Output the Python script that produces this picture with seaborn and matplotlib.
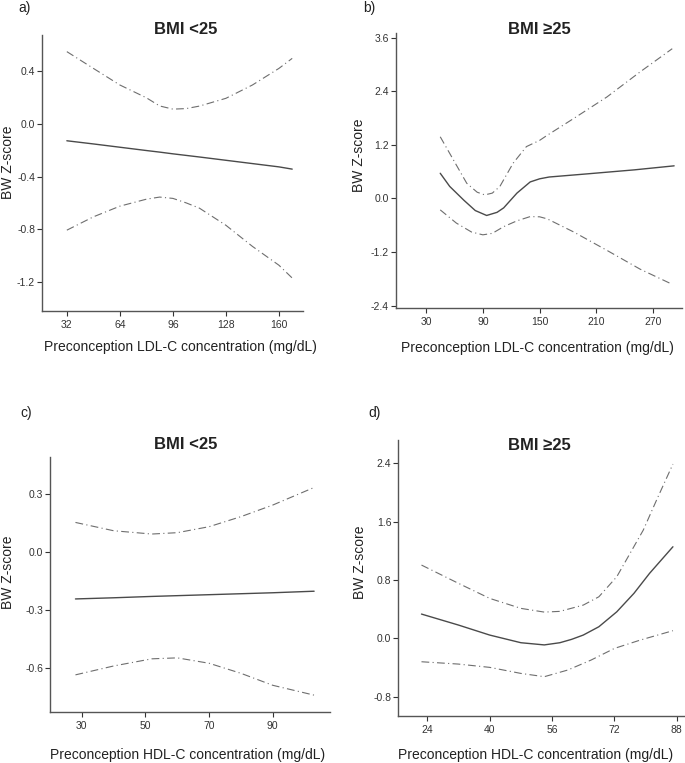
import matplotlib
matplotlib.use("Agg")
import matplotlib.pyplot as plt
import seaborn as sns
import pandas as pd

# ---------------- data ----------------
# a) LDL-C, BMI <25
a_x = [32, 48, 64, 80, 88, 96, 104, 112, 128, 144, 160, 168]
a_mid = [-0.129, -0.153, -0.178, -0.203, -0.215, -0.228, -0.240, -0.252, -0.277, -0.302, -0.327, -0.344]
a_up = [0.547, 0.42, 0.294, 0.197, 0.135, 0.111, 0.115, 0.134, 0.193, 0.294, 0.42, 0.496]
a_lo = [-0.807, -0.706, -0.625, -0.572, -0.556, -0.566, -0.60, -0.64, -0.77, -0.93, -1.073, -1.17]

# b) LDL-C, BMI >=25
b_x_mid = [45, 55, 70, 82, 94, 105, 112, 126, 140, 150, 160, 200, 250, 292]
b_mid = [0.564, 0.27, -0.04, -0.27, -0.38, -0.31, -0.21, 0.12, 0.37, 0.44, 0.48, 0.55, 0.64, 0.73]
b_x_up = [45, 59, 73, 84, 92, 100, 108, 122, 136, 150, 157, 186, 221, 256, 290]
b_up = [1.38, 0.86, 0.34, 0.14, 0.08, 0.12, 0.27, 0.79, 1.16, 1.30, 1.40, 1.79, 2.27, 2.83, 3.35]
b_x_lo = [45, 62, 78, 90, 100, 112, 126, 140, 150, 158, 186, 221, 256, 290]
b_lo = [-0.255, -0.55, -0.75, -0.813, -0.78, -0.63, -0.50, -0.405, -0.41, -0.456, -0.75, -1.16, -1.58, -1.92]

# c) HDL-C, BMI <25
c_x = [28, 40, 52, 60, 70, 80, 90, 103]
c_mid = [-0.243, -0.237, -0.230, -0.226, -0.221, -0.216, -0.211, -0.203]
c_up = [0.153, 0.110, 0.093, 0.10, 0.131, 0.183, 0.243, 0.334]
c_lo = [-0.636, -0.59, -0.553, -0.548, -0.576, -0.628, -0.69, -0.741]

# d) HDL-C, BMI >=25
d_x_mid = [22.5, 32, 40, 48, 54, 58, 61, 64, 68, 72.6, 77, 81, 87]
d_mid = [0.333, 0.182, 0.045, -0.06, -0.09, -0.06, -0.014, 0.045, 0.159, 0.364, 0.617, 0.891, 1.256]
d_x_up = [22.5, 32, 40, 48, 54, 58, 64, 68, 72.6, 76, 79.4, 83, 87]
d_up = [1.005, 0.754, 0.548, 0.411, 0.36, 0.37, 0.456, 0.57, 0.845, 1.165, 1.485, 1.92, 2.39]
d_x_lo = [22.5, 32, 40, 48, 54, 60, 66, 72, 78.6, 87]
d_lo = [-0.321, -0.353, -0.398, -0.481, -0.526, -0.435, -0.298, -0.138, -0.024, 0.105]

panel_labels = ["a)", "b)", "c)", "d)"]
titles = ["BMI <25", "BMI \u226525", "BMI <25", "BMI \u226525"]
xlabels = ["Preconception LDL-C concentration (mg/dL)"] * 2 + ["Preconception HDL-C concentration (mg/dL)"] * 2
ylabel = "BW Z-score"
a_xticks = [32, 64, 96, 128, 160]
b_xticks = [30, 90, 150, 210, 270]
c_xticks = [30, 50, 70, 90]
d_xticks = [24, 40, 56, 72, 88]
a_yticks = [-1.2, -0.8, -0.4, 0.0, 0.4]
b_yticks = [-2.4, -1.2, 0.0, 1.2, 2.4, 3.6]
c_yticks = [-0.6, -0.3, 0.0, 0.3]
d_yticks = [-0.8, 0.0, 0.8, 1.6, 2.4]

# ---------------- style ----------------
sns.set_style("ticks")
plt.rcParams["font.family"] = ["Liberation Sans", "DejaVu Sans"]

W, H = 685, 763
fig = plt.figure(figsize=(W / 100, H / 100), dpi=100)

panels = [
    dict(xm=a_x, mid=a_mid, xu=a_x, up=a_up, xl=a_x, lo=a_lo, xt=a_xticks, yt=a_yticks,
         pos=[0.0613, 0.5924, 0.381, 0.3617], xlim=(17, 174.5), ylim=(-1.42, 0.673),
         tpos=(186, 34), lab=(18, 8), yl=(8, 162), xlab=(180, 347)),
    dict(xm=b_x_mid, mid=b_mid, xu=b_x_up, up=b_up, xl=b_x_lo, lo=b_lo, xt=b_xticks, yt=b_yticks,
         pos=[0.5777, 0.5963, 0.4175, 0.3604], xlim=(-2, 300), ylim=(-2.45, 3.7),
         tpos=(539, 34), lab=(363, 8), yl=(359, 155), xlab=(537, 348)),
    dict(xm=c_x, mid=c_mid, xu=c_x, up=c_up, xl=c_x, lo=c_lo, xt=c_xticks, yt=c_yticks,
         pos=[0.073, 0.0664, 0.4088, 0.3342], xlim=(20, 108), ylim=(-0.83, 0.49),
         tpos=(186, 449), lab=(20, 413), yl=(8, 572), xlab=(188, 755)),
    dict(xm=d_x_mid, mid=d_mid, xu=d_x_up, up=d_up, xl=d_x_lo, lo=d_lo, xt=d_xticks, yt=d_yticks,
         pos=[0.5815, 0.0616, 0.4185, 0.3617], xlim=(16.56, 90.1), ylim=(-1.065, 2.72),
         tpos=(539.5, 450), lab=(368, 413), yl=(360, 562), xlab=(536, 755)),
]

mid_color = "#4a4a4a"
ci_color = "#6e6e6e"
spine_color = "#555555"
text_color = "#222222"

for i, p in enumerate(panels):
    ax = fig.add_axes(p["pos"])
    dm = pd.DataFrame({"x": p["xm"], "y": p["mid"]})
    du = pd.DataFrame({"x": p["xu"], "y": p["up"]})
    dl = pd.DataFrame({"x": p["xl"], "y": p["lo"]})
    sns.lineplot(data=dm, x="x", y="y", ax=ax, color=mid_color, linewidth=1.0)
    for d in (du, dl):
        sns.lineplot(data=d, x="x", y="y", ax=ax, color=ci_color, linewidth=0.8)
        ax.lines[-1].set_linestyle((0, (7, 3, 1, 3)))
    ax.set_xlim(*p["xlim"])
    ax.set_ylim(*p["ylim"])
    ax.set_xticks(p["xt"])
    ax.set_xticklabels([str(v) for v in p["xt"]])
    ax.set_yticks(p["yt"])
    ax.set_yticklabels([f"{v:.1f}" for v in p["yt"]])
    ax.tick_params(axis="both", labelsize=7.5, colors="#333333", length=3.5, width=0.8,
                   direction="out")
    ax.tick_params(axis="x", pad=3)
    ax.tick_params(axis="y", pad=1.5)
    for s in ["top", "right"]:
        ax.spines[s].set_visible(False)
    for s in ["left", "bottom"]:
        ax.spines[s].set_color(spine_color)
        ax.spines[s].set_linewidth(1.0)
    ax.set_xlabel("")
    ax.set_ylabel("")
    fig.text(p["tpos"][0] / W, 1 - p["tpos"][1] / H, titles[i], fontsize=12,
             fontweight="bold", color=text_color, ha="center", va="baseline")
    fig.text(p["lab"][0] / W, 1 - p["lab"][1] / H, panel_labels[i], fontsize=10,
             color=text_color, ha="left", va="center")
    fig.text(p["yl"][0] / W, 1 - p["yl"][1] / H, ylabel, rotation=90, fontsize=10,
             color=text_color, ha="center", va="center")
    fig.text(p["xlab"][0] / W, 1 - p["xlab"][1] / H, xlabels[i], fontsize=10,
             color=text_color, ha="center", va="center")

fig.savefig("out.png", dpi=100, facecolor="white")
